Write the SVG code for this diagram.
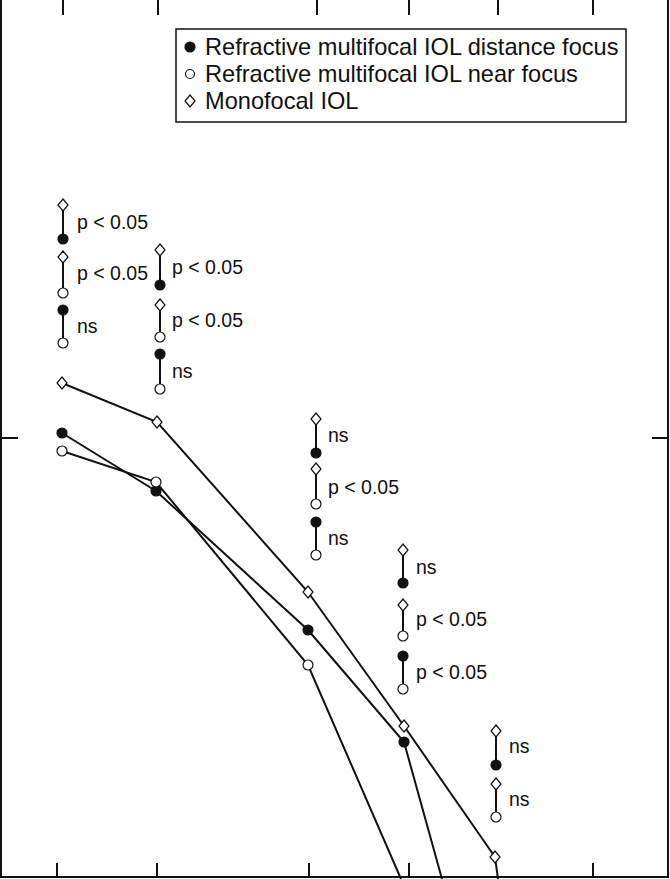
<svg xmlns="http://www.w3.org/2000/svg" width="670" height="879" viewBox="0 0 670 879">
<style>
text{font-family:"Liberation Sans",Arial,sans-serif;font-size:19.5px;fill:#111}
.l{stroke:#111;stroke-width:2;fill:none}
.f{fill:#111;stroke:#111;stroke-width:1.2}
.o{fill:#fff;stroke:#111;stroke-width:1.2}
.lg{font-size:23.6px}
</style>
<defs>
<path id="d" d="M0,-6 L5,0 L0,6 L-5,0 Z" class="o"/>
<circle id="c" r="5" class="f"/>
<circle id="oc" r="5" class="o"/>
</defs>
<rect width="670" height="879" fill="#fff"/>
<g id="axes" class="l">
<rect x="1" y="-2" width="667" height="879"/>
<path d="M63,0V15M158,0V15M317,0V15M409,0V15M498,0V15M593,0V15"/>
<path d="M57,878V863M157,878V863M309,878V863M409,878V863M593,878V863"/>
<path d="M0,438H18M668,438H652"/>
</g>
<g id="connectors" class="l">
<polyline points="62,383 157,422 308,592 404,726 495,857 498,879"/>
<polyline points="62,433 156,491 308,630 404,742 442,879"/>
<polyline points="62,451 156,482 308,665 401,879"/>
<path d="M63,205V239M63,257V293M63,310V343M160,250V285M160,305V337M160,354V389M316,419V453M316,469V504M316,522V555M403,550V583M403,605V636M403,656V689M496,731V765M496,784V817"/>
</g>
<g id="series">
<use href="#d" x="62" y="383"/><use href="#d" x="157" y="422"/><use href="#d" x="308" y="592"/><use href="#d" x="404" y="726"/><use href="#d" x="495" y="857"/>
<use href="#c" x="62" y="433"/><use href="#c" x="156" y="491"/><use href="#c" x="308" y="630"/><use href="#c" x="404" y="742"/>
<use href="#oc" x="62" y="451"/><use href="#oc" x="156" y="482"/><use href="#oc" x="308" y="665"/>
</g>
<g id="pairs">
<use href="#d" x="63" y="205"/><use href="#c" x="63" y="239"/><text x="77" y="229">p &lt; 0.05</text>
<use href="#d" x="63" y="257"/><use href="#oc" x="63" y="293"/><text x="77" y="280">p &lt; 0.05</text>
<use href="#c" x="63" y="310"/><use href="#oc" x="63" y="343"/><text x="77" y="333">ns</text>
<use href="#d" x="160" y="250"/><use href="#c" x="160" y="285"/><text x="172" y="274">p &lt; 0.05</text>
<use href="#d" x="160" y="305"/><use href="#oc" x="160" y="337"/><text x="172" y="327">p &lt; 0.05</text>
<use href="#c" x="160" y="354"/><use href="#oc" x="160" y="389"/><text x="172" y="378">ns</text>
<use href="#d" x="316" y="419"/><use href="#c" x="316" y="453"/><text x="328" y="442">ns</text>
<use href="#d" x="316" y="469"/><use href="#oc" x="316" y="504"/><text x="328" y="494">p &lt; 0.05</text>
<use href="#c" x="316" y="522"/><use href="#oc" x="316" y="555"/><text x="328" y="545">ns</text>
<use href="#d" x="403" y="550"/><use href="#c" x="403" y="583"/><text x="416" y="574">ns</text>
<use href="#d" x="403" y="605"/><use href="#oc" x="403" y="636"/><text x="416" y="626">p &lt; 0.05</text>
<use href="#c" x="403" y="656"/><use href="#oc" x="403" y="689"/><text x="416" y="679">p &lt; 0.05</text>
<use href="#d" x="496" y="731"/><use href="#c" x="496" y="765"/><text x="509" y="753">ns</text>
<use href="#d" x="496" y="784"/><use href="#oc" x="496" y="817"/><text x="509" y="806">ns</text>
</g>
<g id="legend">
<rect x="176" y="29" width="450" height="93" fill="#fff" stroke="#111" stroke-width="1.5"/>
<circle cx="190" cy="47" r="5" class="f"/><text class="lg" x="205" y="55">Refractive multifocal IOL distance focus</text>
<circle cx="190" cy="74" r="4.5" class="o"/><text class="lg" x="205" y="82">Refractive multifocal IOL near focus</text>
<path d="M190,95 L195,101 L190,107 L185,101 Z" class="o"/><text class="lg" x="205" y="109">Monofocal IOL</text>
</g>
</svg>
